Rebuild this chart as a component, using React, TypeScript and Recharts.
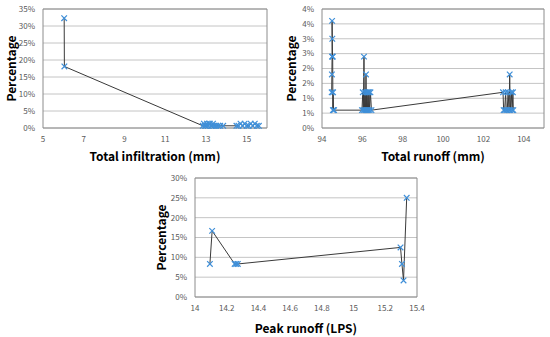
import { ScatterChart, Scatter, XAxis, YAxis, CartesianGrid, ReferenceArea } from "recharts";

// Total infiltration (mm) vs percentage
const infilX = [6.04, 6.05, 12.85, 12.9, 12.95, 13.0, 13.05, 13.1, 13.15, 13.2, 13.25, 13.3, 13.35, 13.4, 13.5, 13.6, 13.7, 13.85, 14.5, 14.6, 14.7, 14.8, 14.9, 15.0, 15.1, 15.2, 15.3, 15.4, 15.5, 15.6];
const infilY = [32.3, 18.1, 0.65, 1.29, 0.65, 0.65, 1.29, 0.65, 1.29, 1.29, 0.65, 0.65, 1.29, 0.65, 0.65, 0.65, 0.65, 0.65, 0.65, 0.65, 1.29, 0.65, 1.29, 0.65, 0.65, 1.29, 0.65, 1.29, 0.65, 0.65];
const infilXTicks = [5, 7, 9, 11, 13, 15];
const infilYTicks = [0, 5, 10, 15, 20, 25, 30, 35];

// Total runoff (mm) vs percentage
const runoffX = [94.48, 94.49, 94.5, 94.5, 94.51, 94.52, 94.53, 94.54, 94.55, 94.57, 94.6,
  95.98, 96.02, 96.05, 96.08, 96.1, 96.13, 96.16, 96.18, 96.2, 96.22, 96.25, 96.28, 96.3, 96.33, 96.36, 96.4, 96.45,
  102.97, 103.0, 103.05, 103.1, 103.13, 103.18, 103.22, 103.27, 103.3, 103.33, 103.38, 103.42, 103.46, 103.48];
const runoffY = [1.2, 1.8, 2.4, 3.6, 3.0, 2.4, 2.4, 0.6, 1.2, 0.6, 0.6,
  0.6, 1.2, 0.6, 2.4, 0.6, 1.2, 0.6, 1.8, 0.6, 1.2, 0.6, 1.2, 0.6, 1.2, 0.6, 1.2, 0.6,
  1.2, 0.6, 0.6, 1.2, 0.6, 0.6, 1.2, 0.6, 1.8, 0.6, 1.2, 0.6, 1.2, 0.6];
const runoffXTicks = [94, 96, 98, 100, 102, 104];
const runoffYTicks = [0, 0.5, 1, 1.5, 2, 2.5, 3, 3.5, 4];

// Peak runoff (LPS) vs percentage
const peakX = [14.094, 14.108, 14.25, 14.26, 14.27, 15.296, 15.305, 15.315, 15.335];
const peakY = [8.33, 16.67, 8.33, 8.33, 8.33, 12.5, 8.33, 4.17, 25];
const peakXTicks = [14, 14.2, 14.4, 14.6, 14.8, 15, 15.2, 15.4];
const peakYTicks = [0, 5, 10, 15, 20, 25, 30];

const toPoints = (xs: number[], ys: number[]) => xs.map((x, i) => ({ x, y: ys[i] }));

const FONT = "'Noto Sans CJK KR', 'Liberation Sans', sans-serif";
const TICK = { fontSize: 8, fill: "#595959", fontFamily: FONT };
const TITLE = { fontSize: 12, fontWeight: 700, fill: "#000", fontFamily: FONT };

const XMark = (props: any) => {
  const { cx, cy } = props;
  if (cx == null || cy == null) return null;
  const s = 2.8;
  return (
    <path
      d={`M${cx - s},${cy - s}L${cx + s},${cy + s}M${cx - s},${cy + s}L${cx + s},${cy - s}`}
      stroke="#3f8fd8"
      strokeWidth={1.2}
      fill="none"
    />
  );
};

const NoMark = () => <g />;

interface PanelProps {
  left: number;
  top: number;
  width: number;
  height: number;
  margin: { top: number; right: number; left: number; bottom: number };
  yWidth: number;
  xHeight: number;
  data: { x: number; y: number }[];
  xDomain: [number, number];
  yDomain: [number, number];
  xTicks: number[];
  yTicks: number[];
  yFormat: (v: number) => string;
  xTitle: string;
  yTitleOffset: number;
}

function Panel(p: PanelProps) {
  return (
    <div style={{ position: "absolute", left: p.left, top: p.top }}>
      <ScatterChart width={p.width} height={p.height} margin={p.margin}>
        <CartesianGrid horizontal vertical={false} stroke="#c4c4c4" />
        <XAxis
          type="number"
          dataKey="x"
          domain={p.xDomain}
          ticks={p.xTicks}
          height={p.xHeight}
          axisLine={false}
          tickLine={false}
          tick={TICK}
          interval={0}
          label={{ value: p.xTitle, position: "insideBottom", offset: 4, style: TITLE }}
        />
        <YAxis
          type="number"
          dataKey="y"
          domain={p.yDomain}
          ticks={p.yTicks}
          width={p.yWidth}
          axisLine={false}
          tickLine={false}
          tick={TICK}
          interval={0}
          tickFormatter={p.yFormat}
          label={{
            value: "Percentage",
            angle: -90,
            position: "insideLeft",
            offset: p.yTitleOffset,
            style: { ...TITLE, textAnchor: "middle" },
          }}
        />
        <ReferenceArea
          x1={p.xDomain[0]}
          x2={p.xDomain[1]}
          y1={p.yDomain[0]}
          y2={p.yDomain[1]}
          fill="none"
          stroke="#8c8c8c"
          strokeWidth={1}
        />
        <Scatter
          data={p.data}
          line={{ stroke: "#3a3a3a", strokeWidth: 1 }}
          shape={NoMark}
          isAnimationActive={false}
        />
        <Scatter data={p.data} shape={XMark} isAnimationActive={false} />
      </ScatterChart>
    </div>
  );
}

export default function App() {
  return (
    <div style={{ position: "absolute", left: 0, top: 0, width: 550, height: 337, background: "#fff" }}>
      <Panel
        left={0}
        top={0}
        width={275}
        height={165}
        margin={{ top: 9, right: 8, left: 0, bottom: 0 }}
        yWidth={43}
        xHeight={37}
        data={toPoints(infilX, infilY)}
        xDomain={[5, 16]}
        yDomain={[0, 35]}
        xTicks={infilXTicks}
        yTicks={infilYTicks}
        yFormat={(v) => `${v}%`}
        xTitle="Total infiltration (mm)"
        yTitleOffset={12}
      />
      <Panel
        left={275}
        top={0}
        width={275}
        height={165}
        margin={{ top: 9, right: 6, left: 0, bottom: 0 }}
        yWidth={47}
        xHeight={37}
        data={toPoints(runoffX, runoffY)}
        xDomain={[94, 105]}
        yDomain={[0, 4]}
        xTicks={runoffXTicks}
        yTicks={runoffYTicks}
        yFormat={(v) => `${Math.round(v)}%`}
        xTitle="Total runoff (mm)"
        yTitleOffset={17}
      />
      <Panel
        left={150}
        top={168}
        width={275}
        height={169}
        margin={{ top: 10, right: 8, left: 0, bottom: 0 }}
        yWidth={45}
        xHeight={40}
        data={toPoints(peakX, peakY)}
        xDomain={[14, 15.4]}
        yDomain={[0, 30]}
        xTicks={peakXTicks}
        yTicks={peakYTicks}
        yFormat={(v) => `${v}%`}
        xTitle="Peak runoff (LPS)"
        yTitleOffset={12}
      />
    </div>
  );
}
